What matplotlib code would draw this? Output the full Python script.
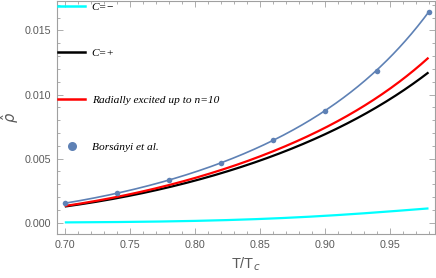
import numpy as np
import matplotlib
matplotlib.use("Agg")
import matplotlib.pyplot as plt
from matplotlib.lines import Line2D
from matplotlib.ticker import MultipleLocator

# ---- data ----
T = [0.70, 0.74, 0.78, 0.82, 0.86, 0.90, 0.94, 0.98]
borsanyi = [0.00152, 0.00232, 0.00331, 0.00464, 0.00644, 0.00875, 0.01185, 0.01644]
radial = [0.00130, 0.00203, 0.00300, 0.00398, 0.00555, 0.00745, 0.00984, 0.01279]
c_plus = [0.00125, 0.00195, 0.00285, 0.00367, 0.00521, 0.00698, 0.00912, 0.01162]
c_minus = [0.00003, 0.00005, 0.00011, 0.00021, 0.00034, 0.00052, 0.00078, 0.00115]

labels = ["C=\u2212", "C=+", "Radially excited up to n=10", "Bors\u00e1nyi et al."]

BLUE = "#5E81B5"
GRAY_FRAME = "#A0A0A0"
GRAY_TEXT = "#5A5A5A"


def smooth(x, y, n=300):
    x = np.asarray(x)
    y = np.asarray(y)
    c = np.polyfit(x, np.log(y), 3)
    xs = np.linspace(x.min(), x.max(), n)
    return xs, np.exp(np.polyval(c, xs))


fig = plt.figure(figsize=(4.36, 2.78), dpi=100)
ax = fig.add_axes([57 / 436, 1 - 234.3 / 278, (435 - 57) / 436, (233.3) / 278])

xs, ys = smooth(T, c_minus)
ax.plot(xs, ys, color="#00FFFF", lw=1.6, solid_capstyle="butt")
xs, ys = smooth(T, c_plus)
ax.plot(xs, ys, color="black", lw=1.6, solid_capstyle="butt")
xs, ys = smooth(T, radial)
ax.plot(xs, ys, color="#FF0000", lw=1.6, solid_capstyle="butt")
xs, ys = smooth(T, borsanyi)
ax.plot(xs, ys, color=BLUE, lw=1.2)
ax.plot(T, borsanyi, "o", color=BLUE, ms=4.0, mew=0)

ax.set_xlim(0.694, 0.985)
ax.set_ylim(-0.0009, 0.0173)

ax.xaxis.set_major_locator(MultipleLocator(0.05))
ax.xaxis.set_minor_locator(MultipleLocator(0.01))
ax.yaxis.set_major_locator(MultipleLocator(0.005))
ax.yaxis.set_minor_locator(MultipleLocator(0.001))
ax.xaxis.set_major_formatter(matplotlib.ticker.FormatStrFormatter("%.2f"))
ax.yaxis.set_major_formatter(matplotlib.ticker.FormatStrFormatter("%.3f"))

ax.tick_params(which="both", direction="in", top=True, right=True,
               color=GRAY_FRAME, labelcolor=GRAY_TEXT, labelsize=7.7, width=0.6)
ax.tick_params(which="major", length=4, pad=4)
ax.tick_params(which="minor", length=2)
for lab in ax.get_xticklabels() + ax.get_yticklabels():
    lab.set_family("Liberation Sans")
for s in ax.spines.values():
    s.set_color(GRAY_FRAME)
    s.set_linewidth(0.8)

ax.set_xlabel("T/T$_c$", color=GRAY_TEXT, fontsize=10.5, family="Liberation Sans", labelpad=4)
ax.set_ylabel(r"$\hat{\rho}$", color=GRAY_TEXT, fontsize=10.5, labelpad=3)

handles = [
    Line2D([], [], color="#00FFFF", lw=1.8),
    Line2D([], [], color="black", lw=1.8),
    Line2D([], [], color="#FF0000", lw=1.8),
    Line2D([], [], color=BLUE, marker="o", ls="none", ms=6.5, mew=0),
]
leg = ax.legend(handles, labels, loc="upper left", bbox_to_anchor=(0, 1.0),
                borderaxespad=0, borderpad=0.05, frameon=False,
                handlelength=2.45, handletextpad=0.55, labelspacing=3.24,
                prop={"family": "Liberation Serif", "style": "italic", "size": 8.2})

fig.savefig("out.png", dpi=100)
